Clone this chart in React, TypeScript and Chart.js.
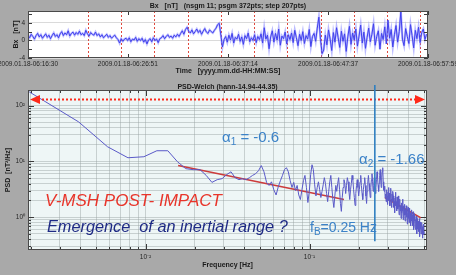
import { useEffect, useRef } from "react";
import { Chart, registerables } from "chart.js";

Chart.register(...registerables);

const SANS = "'Liberation Sans', Arial, sans-serif";

// ---------- Bx time series (one sample every 10 s) ----------
const BX_STEP_SEC = 10;
const BX_NT = [
  1.2, 0.6, 1.4, 0.9, 0.3, 1.1, 1.6, 0.8, 1.3, 0.5, 1.0, 1.5, 0.7, 1.2, 0.4, 1.1, 1.7, 0.9, 1.3, 0.6,
  1.5, 2.0, 1.1, 1.7, 1.3, 2.2, 1.0, 1.6, 1.9, 1.2, 1.8, 1.4, 2.1, 1.3, 1.6, 1.1,
  2.3, 1.5, 1.0, 1.8, 1.4, 1.2, 1.9, 1.1, 1.5,
  0.8, 1.3, 0.6, 1.0, 1.4, 0.7, 1.1, 0.5, 0.9, 1.2, 0.6,
  0.2, -0.6, 0.4, -0.2, 0.3,
  0.5, 0.0, 0.6, -0.3, 0.3, 0.1, 0.7, -0.2, 0.4, 0.0, 0.5, -0.4, 0.2, -0.8, 0.1, 0.4, -0.3, 0.6, 0.0, 0.3, -0.5, 0.4,
  0.6, 1.1, 0.4, 0.9, 1.3, 0.7, 1.0, 0.5, 1.2, 0.8, 1.4, 0.9,
  1.6, 2.2, 1.4, 2.5, 3.0, 2.1, 1.7, 2.4, 1.5, 2.0, 2.6, 1.8, 2.3, 1.4, 2.1, 2.7, 1.9, 1.6, 2.4, 2.0, 1.7, 2.3,
  2.8, 3.6, 3.9,
  1.2, -1.5, 0.2,
  0.9, -0.4, 1.2, 0.1, 1.6, -0.6, 0.7, 0.3, 1.4, -0.2, 0.8, -0.9, 1.1, 0.4, 1.7, -0.3, 0.6, 0.0, 1.3, -0.5, 0.9, 0.2,
  1.5, -0.6, 2.9, 0.3, 1.2, -1.9, 0.8, 2.2, -0.4, 1.6, 0.1, 2.6, -1.1, 1.0, 0.4, 1.9, -0.8, 1.3, 0.2,
  1.7, -0.5, 2.3, 0.6, -1.2, 1.4, 0.0, 2.0, -0.7, 1.1, 0.3, 2.5, -1.4, 0.9, 1.6, -0.2, 2.8,
  5.3, 0.2, -3.0, -2.2,
  1.2, -1.0, 2.4, 0.3, -2.3, 1.8, -0.4, 2.9, 0.6, -1.6,
  2.1, -0.2, 1.5, -2.5, 0.8, 3.2, -0.9, 1.7, 0.1, 2.6,
  -1.3, 1.0, 3.5, -0.6, 1.9, -1.8, 0.7, 2.8, -0.3, 1.4,
  3.8, -1.1, 0.9, 2.2, -2.0, 1.6, 0.2, 3.1, -0.8, 4.6,
  0.5, 2.5, -1.5, 1.3, 3.4, -0.4, 2.0, 6.5, 0.3, -1.2,
  2.7, 0.9, -0.7, 3.6, 1.1, -1.7, 2.3, 0.4, 3.0, -0.5,
  1.8, 2.6, 0.2, 1.4,
];
const TIME_RANGE_SEC = [0, 2489];
const TIME_TICK_SEC = [0, 621, 1244, 1867, 2489];
const TIME_TICK_LABELS = [
  "2009.01.18-06:16:30",
  "2009.01.18-06:26:51",
  "2009.01.18-06:37:14",
  "2009.01.18-06:47:37",
  "2009.01.18-06:57:59",
];
// end of each Welch segment (372 pts, step 207 pts)
const SEGMENT_END_SEC = [372, 579, 786, 993, 1200, 1407, 1614, 1821, 2028, 2235, 2442];
const BX_RANGE = [-4, 6.7];
const BX_TICKS = [-4, -2, 0, 2, 4, 6];
const BX_TITLE = "Bx   [nT]   (nsgm 11; psgm 372pts; step 207pts)";

// ---------- Welch power spectral density ----------
const FREQ_STEP_HZ = 1 / 512;
const PSD = [
  176, 51, 18.3, 11.6, 12.1, 15.5, 15.5, 9.9, 7.4, 7.1, 7.1, 5.6, 4.2, 4.7, 4.9,
  5.8, 6.5, 5.1, 4.7, 4.9, 4.7, 5.1, 5.6, 6.0, 6.8,
  8.4, 6.5, 4.2, 3.7, 4.3, 3.1, 2.5, 3.5, 4.5, 5.6,
  7.1, 7.7, 6.5, 4.5, 3.4, 4.2, 3.0, 3.7, 2.5, 2.07,
  3.1, 4.5, 5.6, 3.4, 1.83, 2.9, 5.8, 8.7, 7.1, 3.8,
  2.4, 3.4, 4.3, 3.1, 2.25, 2.9, 3.8, 5.1, 4.0, 2.65,
  1.9, 2.9, 4.3, 5.6, 3.4, 2.07, 1.49, 2.4, 3.7, 2.9,
  4.0, 5.1, 3.1, 1.76, 1.27, 2.25, 3.4, 4.7, 4.0, 2.65,
  3.7, 5.1, 4.3, 2.9, 2.07, 3.1, 4.0, 5.6, 4.7, 3.1,
  2.25, 1.62, 2.65, 3.7, 4.7, 3.4, 2.4, 3.1, 4.3, 5.6,
  3.7, 2.65, 2.07, 3.1, 4.0, 5.1, 3.7, 2.4, 1.76, 2.9,
  4.3, 5.6, 4.0, 3.1, 2.25, 3.4, 4.7, 6.0, 4.3, 2.9,
  3.7, 5.1, 4.0, 2.65, 3.4, 4.7, 6.5, 5.1, 3.7, 2.9,
  4.0, 5.6, 7.1, 4.7, 3.4, 5.1, 6.5, 7.7, 4.3, 3.1,
  2.9, 3.6, 2.2, 2.6, 1.9, 3.1, 2.4, 1.7, 2.8, 3.4,
  2.0, 2.7, 1.6, 2.4, 3.3, 2.1, 1.5, 2.6, 1.9, 2.9,
  2.4, 1.5, 1.9, 1.2, 2.2, 2.8, 1.6, 1.9, 1.3, 2.3,
  1.9, 1.4, 2.4, 1.5, 1.1, 1.7, 2.1, 1.3, 1.6, 0.95,
  1.8, 1.2, 1.5, 2.1, 1.3, 0.9, 1.6, 1.1, 1.7, 1.25,
  0.85, 1.4, 1.1, 1.6, 1.0, 1.3, 0.75, 1.2, 1.5, 0.95,
  1.3, 0.8, 1.1, 1.45, 0.9, 1.2, 0.7, 1.0, 1.35, 0.85,
  1.1, 0.7, 0.95, 1.25, 0.75, 0.6, 1.0, 0.85, 1.15, 0.65,
  0.9, 0.6, 0.85, 1.05, 0.7, 0.5, 0.8, 0.95, 0.62, 0.78,
  0.55, 0.85, 0.68, 0.95, 0.6, 0.45, 0.75, 0.62, 0.82, 0.5,
  0.7, 0.52, 0.8, 0.6, 0.42, 0.68, 0.55, 0.75, 0.48, 0.62, 0.5,
];
const FREQ_RANGE = [0.00192, 0.52];
const PSD_RANGE = [0.258, 190];
const LOG_MANTISSAS = [1, 2, 3, 4, 5, 6, 7, 8, 9];
const FREQ_DECADES = [-3, -2, -1];
const PSD_DECADES = [-1, 0, 1, 2];
const PSD_TITLE = "PSD-Welch (hann-14.94-44.35)";

// power-law fits
const ALPHA_1 = -0.6;
const FIT1_FREQ = [0.0158, 0.162];
const FIT1_START = 8.4;
const ALPHA_2 = -1.66;
const FIT2_FREQ = [0.288, 0.478];
const FIT2_START = 2.25;

// break frequency marker and span arrow
const F_BREAK_HZ = 0.25;
const BREAK_LINE_BOTTOM = 0.37;
const ARROW_LEVEL = 132;

const SUP: Record<string, string> = {
  "-": "\u207B", "0": "\u2070", "1": "\u00B9", "2": "\u00B2", "3": "\u00B3",
  "4": "\u2074", "5": "\u2075", "6": "\u2076", "7": "\u2077", "8": "\u2078", "9": "\u2079",
};

function powerLabel(v: number): string {
  const e = Math.log10(v);
  const r = Math.round(e);
  if (Math.abs(e - r) > 1e-6) return "";
  return "10" + String(r).split("").map((c) => SUP[c]).join("");
}

function logTicks(decades: number[], range: number[]): number[] {
  const out: number[] = [];
  for (const d of decades) {
    for (const m of LOG_MANTISSAS) {
      const v = parseFloat((m * Math.pow(10, d)).toPrecision(6));
      if (v >= range[0] && v <= range[1]) out.push(v);
    }
  }
  return out;
}

function isDecade(v: number): boolean {
  const e = Math.log10(v);
  return Math.abs(e - Math.round(e)) < 1e-6;
}

function fitLine(freq: number[], start: number, alpha: number) {
  return [
    { x: freq[0], y: start },
    { x: freq[1], y: start * Math.pow(freq[1] / freq[0], alpha) },
  ];
}

// text with a subscript part: base + sub + rest
function drawSubText(
  ctx: CanvasRenderingContext2D, base: string, sub: string, rest: string,
  x: number, y: number, size: number, color: string
) {
  ctx.save();
  ctx.fillStyle = color;
  ctx.textBaseline = "middle";
  ctx.textAlign = "left";
  ctx.font = `${size}px ${SANS}`;
  ctx.fillText(base, x, y);
  let cx = x + ctx.measureText(base).width;
  ctx.font = `${Math.round(size * 0.68)}px ${SANS}`;
  ctx.fillText(sub, cx, y + size * 0.3);
  cx += ctx.measureText(sub).width;
  ctx.font = `${size}px ${SANS}`;
  ctx.fillText(rest, cx, y);
  ctx.restore();
}

const tickFont = { family: SANS, size: 6.5 };
const titleFont = { family: SANS, size: 7, weight: "bold" as const };

export default function App() {
  const bxRef = useRef<HTMLCanvasElement>(null);
  const psdRef = useRef<HTMLCanvasElement>(null);

  useEffect(() => {
    const bxPoints = BX_NT.map((y, i) => ({ x: i * BX_STEP_SEC, y }));

    const bxDecor = {
      id: "bxDecor",
      beforeDraw(chart: any) {
        const { ctx, chartArea: a } = chart;
        ctx.save();
        ctx.fillStyle = "#ffffff";
        ctx.fillRect(a.left, a.top, a.right - a.left, a.bottom - a.top);
        ctx.restore();
      },
      beforeDatasetsDraw(chart: any) {
        const { ctx, chartArea: a, scales } = chart;
        ctx.save();
        ctx.strokeStyle = "#e0483c";
        ctx.lineWidth = 1;
        ctx.setLineDash([2, 2]);
        for (const t of SEGMENT_END_SEC) {
          const px = Math.round(scales.x.getPixelForValue(t)) + 0.5;
          ctx.beginPath();
          ctx.moveTo(px, a.top);
          ctx.lineTo(px, a.bottom);
          ctx.stroke();
        }
        ctx.restore();
      },
      afterDatasetsDraw(chart: any) {
        const { ctx, chartArea: a, scales } = chart;
        ctx.save();
        ctx.strokeStyle = "#3a3a3a";
        ctx.lineWidth = 1;
        for (const t of TIME_TICK_SEC) {
          const px = Math.round(scales.x.getPixelForValue(t)) + 0.5;
          ctx.beginPath();
          ctx.moveTo(px, a.top); ctx.lineTo(px, a.top + 4);
          ctx.moveTo(px, a.bottom); ctx.lineTo(px, a.bottom - 4);
          ctx.stroke();
        }
        for (const v of BX_TICKS) {
          const py = Math.round(scales.y.getPixelForValue(v)) + 0.5;
          ctx.beginPath();
          ctx.moveTo(a.left, py); ctx.lineTo(a.left + 4, py);
          ctx.moveTo(a.right, py); ctx.lineTo(a.right - 4, py);
          ctx.stroke();
        }
        ctx.strokeStyle = "#4a4a4a";
        ctx.strokeRect(a.left + 0.5, a.top + 0.5, a.right - a.left - 1, a.bottom - a.top - 1);
        ctx.restore();
      },
      afterDraw(chart: any) {
        const { ctx, chartArea: a } = chart;
        ctx.save();
        ctx.fillStyle = "#1a1a1a";
        ctx.font = `bold 7px ${SANS}`;
        ctx.textAlign = "center";
        ctx.textBaseline = "middle";
        ctx.fillText(BX_TITLE, (a.left + a.right) / 2, 6);
        ctx.restore();
      },
    };

    const bxChart = new Chart(bxRef.current!, {
      type: "line",
      data: {
        datasets: [
          {
            data: bxPoints,
            borderColor: "rgba(120,120,255,0.5)",
            borderWidth: 2.2,
            pointRadius: 0,
          },
          {
            data: bxPoints,
            borderColor: "#0a0ad8",
            borderWidth: 1,
            pointRadius: 0,
          },
        ],
      },
      options: {
        responsive: false,
        animation: false,
        events: [],
        layout: { padding: { left: 0, right: 28, top: 11, bottom: 0 } },
        plugins: { legend: { display: false }, tooltip: { enabled: false } },
        scales: {
          x: {
            type: "linear",
            min: TIME_RANGE_SEC[0],
            max: TIME_RANGE_SEC[1],
            afterBuildTicks: (s: any) => {
              s.ticks = TIME_TICK_SEC.map((v) => ({ value: v }));
            },
            afterFit: (s: any) => {
              s.height = 22;
              s.paddingLeft = 0;
              s.paddingRight = 0;
            },
            grid: { display: false, drawTicks: false },
            border: { display: false },
            ticks: {
              autoSkip: false,
              maxRotation: 0,
              minRotation: 0,
              padding: 2,
              color: "#262626",
              font: tickFont,
              callback: (_v: any, i: number) => TIME_TICK_LABELS[i],
            },
            title: {
              display: true,
              text: "Time   [yyyy.mm.dd-HH:MM:SS]",
              color: "#1a1a1a",
              font: titleFont,
              padding: { top: 0, bottom: 5 },
            },
          },
          y: {
            type: "linear",
            min: BX_RANGE[0],
            max: BX_RANGE[1],
            afterBuildTicks: (s: any) => {
              s.ticks = BX_TICKS.map((v) => ({ value: v }));
            },
            afterFit: (s: any) => {
              s.width = 28;
              s.paddingTop = 0;
              s.paddingBottom = 0;
            },
            grid: { color: "#dadada", drawTicks: false },
            border: { display: false },
            ticks: { padding: 3, color: "#262626", font: tickFont },
            title: {
              display: true,
              text: "Bx   [nT]",
              color: "#1a1a1a",
              font: titleFont,
              padding: { top: 12, bottom: 0 },
            },
          },
        },
      },
      plugins: [bxDecor],
    } as any);

    const psdPoints = PSD.map((y, i) => ({ x: (i + 1) * FREQ_STEP_HZ, y }));
    const xTicks = logTicks(FREQ_DECADES, FREQ_RANGE);
    const yTicks = logTicks(PSD_DECADES, PSD_RANGE);

    const psdDecor = {
      id: "psdDecor",
      beforeDraw(chart: any) {
        const { ctx, chartArea: a } = chart;
        ctx.save();
        ctx.fillStyle = "#eef6f6";
        ctx.fillRect(a.left, a.top, a.right - a.left, a.bottom - a.top);
        ctx.restore();
      },
      afterDatasetsDraw(chart: any) {
        const { ctx, chartArea: a, scales } = chart;
        ctx.save();
        // inward tick marks
        ctx.strokeStyle = "#3a3a3a";
        ctx.lineWidth = 1;
        for (const v of xTicks) {
          const px = Math.round(scales.x.getPixelForValue(v)) + 0.5;
          const len = isDecade(v) ? 6 : 3;
          ctx.beginPath();
          ctx.moveTo(px, a.top); ctx.lineTo(px, a.top + len);
          ctx.moveTo(px, a.bottom); ctx.lineTo(px, a.bottom - len);
          ctx.stroke();
        }
        for (const v of yTicks) {
          const py = Math.round(scales.y.getPixelForValue(v)) + 0.5;
          const len = isDecade(v) ? 6 : 3;
          ctx.beginPath();
          ctx.moveTo(a.left, py); ctx.lineTo(a.left + len, py);
          ctx.moveTo(a.right, py); ctx.lineTo(a.right - len, py);
          ctx.stroke();
        }
        ctx.strokeStyle = "#4a4a4a";
        ctx.strokeRect(a.left + 0.5, a.top + 0.5, a.right - a.left - 1, a.bottom - a.top - 1);

        // dotted double arrow across the frequency span
        const ay = Math.round(scales.y.getPixelForValue(ARROW_LEVEL)) + 0.5;
        const x0 = a.left + 2;
        const x1 = a.right - 2;
        ctx.strokeStyle = "#ff2a1a";
        ctx.fillStyle = "#ff2a1a";
        ctx.lineWidth = 2;
        ctx.setLineDash([2, 2]);
        ctx.beginPath();
        ctx.moveTo(x0 + 8, ay);
        ctx.lineTo(x1 - 8, ay);
        ctx.stroke();
        ctx.setLineDash([]);
        ctx.beginPath();
        ctx.moveTo(x0, ay); ctx.lineTo(x0 + 10, ay - 4.5); ctx.lineTo(x0 + 10, ay + 4.5);
        ctx.closePath();
        ctx.fill();
        ctx.beginPath();
        ctx.moveTo(x1, ay); ctx.lineTo(x1 - 10, ay - 4.5); ctx.lineTo(x1 - 10, ay + 4.5);
        ctx.closePath();
        ctx.fill();

        // break frequency marker
        const bx = scales.x.getPixelForValue(F_BREAK_HZ);
        ctx.strokeStyle = "#2f7fc0";
        ctx.lineWidth = 1.6;
        ctx.beginPath();
        ctx.moveTo(bx, a.top - 5);
        ctx.lineTo(bx, scales.y.getPixelForValue(BREAK_LINE_BOTTOM));
        ctx.stroke();
        ctx.restore();

        // annotations
        const blue = "#3b82c8";
        drawSubText(ctx, "\u03B1", "1", ` = ${ALPHA_1}`, 222, 58, 15, blue);
        drawSubText(ctx, "\u03B1", "2", ` = ${ALPHA_2}`, 359, 80, 15, blue);
        drawSubText(ctx, "f", "B", `=${F_BREAK_HZ} Hz`, 310, 148, 14, blue);

        ctx.save();
        ctx.textBaseline = "middle";
        ctx.textAlign = "left";
        ctx.font = `italic 17px ${SANS}`;
        ctx.fillStyle = "#e8352b";
        ctx.fillText("V-MSH POST- IMPACT", 45, 121);
        ctx.font = `italic 16.3px ${SANS}`;
        ctx.fillStyle = "#1e2a84";
        ctx.fillText("Emergence  of an inertial range ?", 47, 147);
        ctx.restore();
      },
      afterDraw(chart: any) {
        const { ctx, chartArea: a } = chart;
        ctx.save();
        ctx.fillStyle = "#1a1a1a";
        ctx.font = `bold 7px ${SANS}`;
        ctx.textAlign = "center";
        ctx.textBaseline = "middle";
        ctx.fillText(PSD_TITLE, (a.left + a.right) / 2, 7);
        ctx.restore();
      },
    };

    const psdChart = new Chart(psdRef.current!, {
      type: "line",
      data: {
        datasets: [
          {
            data: psdPoints,
            borderColor: "#5a5ac8",
            borderWidth: 1,
            pointRadius: 0,
          },
          {
            data: fitLine(FIT1_FREQ, FIT1_START, ALPHA_1),
            borderColor: "#cc3b3b",
            borderWidth: 1.6,
            pointRadius: 0,
          },
          {
            data: fitLine(FIT2_FREQ, FIT2_START, ALPHA_2),
            borderColor: "#cc3b3b",
            borderWidth: 1.6,
            pointRadius: 0,
          },
        ],
      },
      options: {
        responsive: false,
        animation: false,
        events: [],
        layout: { padding: { left: 0, right: 29, top: 10, bottom: 0 } },
        plugins: { legend: { display: false }, tooltip: { enabled: false } },
        scales: {
          x: {
            type: "logarithmic",
            min: FREQ_RANGE[0],
            max: FREQ_RANGE[1],
            afterBuildTicks: (s: any) => {
              s.ticks = xTicks.map((v) => ({ value: v }));
            },
            afterFit: (s: any) => {
              s.height = 25;
              s.paddingLeft = 0;
              s.paddingRight = 0;
            },
            grid: { color: "rgba(150,162,162,0.45)", drawTicks: false },
            border: { display: false },
            ticks: {
              autoSkip: false,
              maxRotation: 0,
              minRotation: 0,
              padding: 3,
              color: "#262626",
              font: tickFont,
              callback: (v: any) => powerLabel(Number(v)),
            },
            title: {
              display: true,
              text: "Frequency [Hz]",
              color: "#1a1a1a",
              font: titleFont,
              padding: { top: 0, bottom: 6 },
            },
          },
          y: {
            type: "logarithmic",
            min: PSD_RANGE[0],
            max: PSD_RANGE[1],
            afterBuildTicks: (s: any) => {
              s.ticks = yTicks.map((v) => ({ value: v }));
            },
            afterFit: (s: any) => {
              s.width = 28;
              s.paddingTop = 0;
              s.paddingBottom = 0;
            },
            grid: { color: "rgba(150,162,162,0.45)", drawTicks: false },
            border: { display: false },
            ticks: {
              autoSkip: false,
              padding: 3,
              color: "#262626",
              font: tickFont,
              callback: (v: any) => powerLabel(Number(v)),
            },
            title: {
              display: true,
              text: "PSD  [nT\u00B2/Hz]",
              color: "#1a1a1a",
              font: titleFont,
              padding: { top: 4, bottom: 0 },
            },
          },
        },
      },
      plugins: [psdDecor],
    } as any);

    return () => {
      bxChart.destroy();
      psdChart.destroy();
    };
  }, []);

  return (
    <div
      style={{
        position: "fixed",
        left: 0,
        top: 0,
        width: 456,
        height: 275,
        background: "#a9a9a9",
        overflow: "hidden",
      }}
    >
      <canvas
        ref={bxRef}
        width={456}
        height={80}
        style={{ position: "absolute", left: 0, top: 0, width: 456, height: 80 }}
      />
      <canvas
        ref={psdRef}
        width={456}
        height={195}
        style={{ position: "absolute", left: 0, top: 80, width: 456, height: 195 }}
      />
    </div>
  );
}
